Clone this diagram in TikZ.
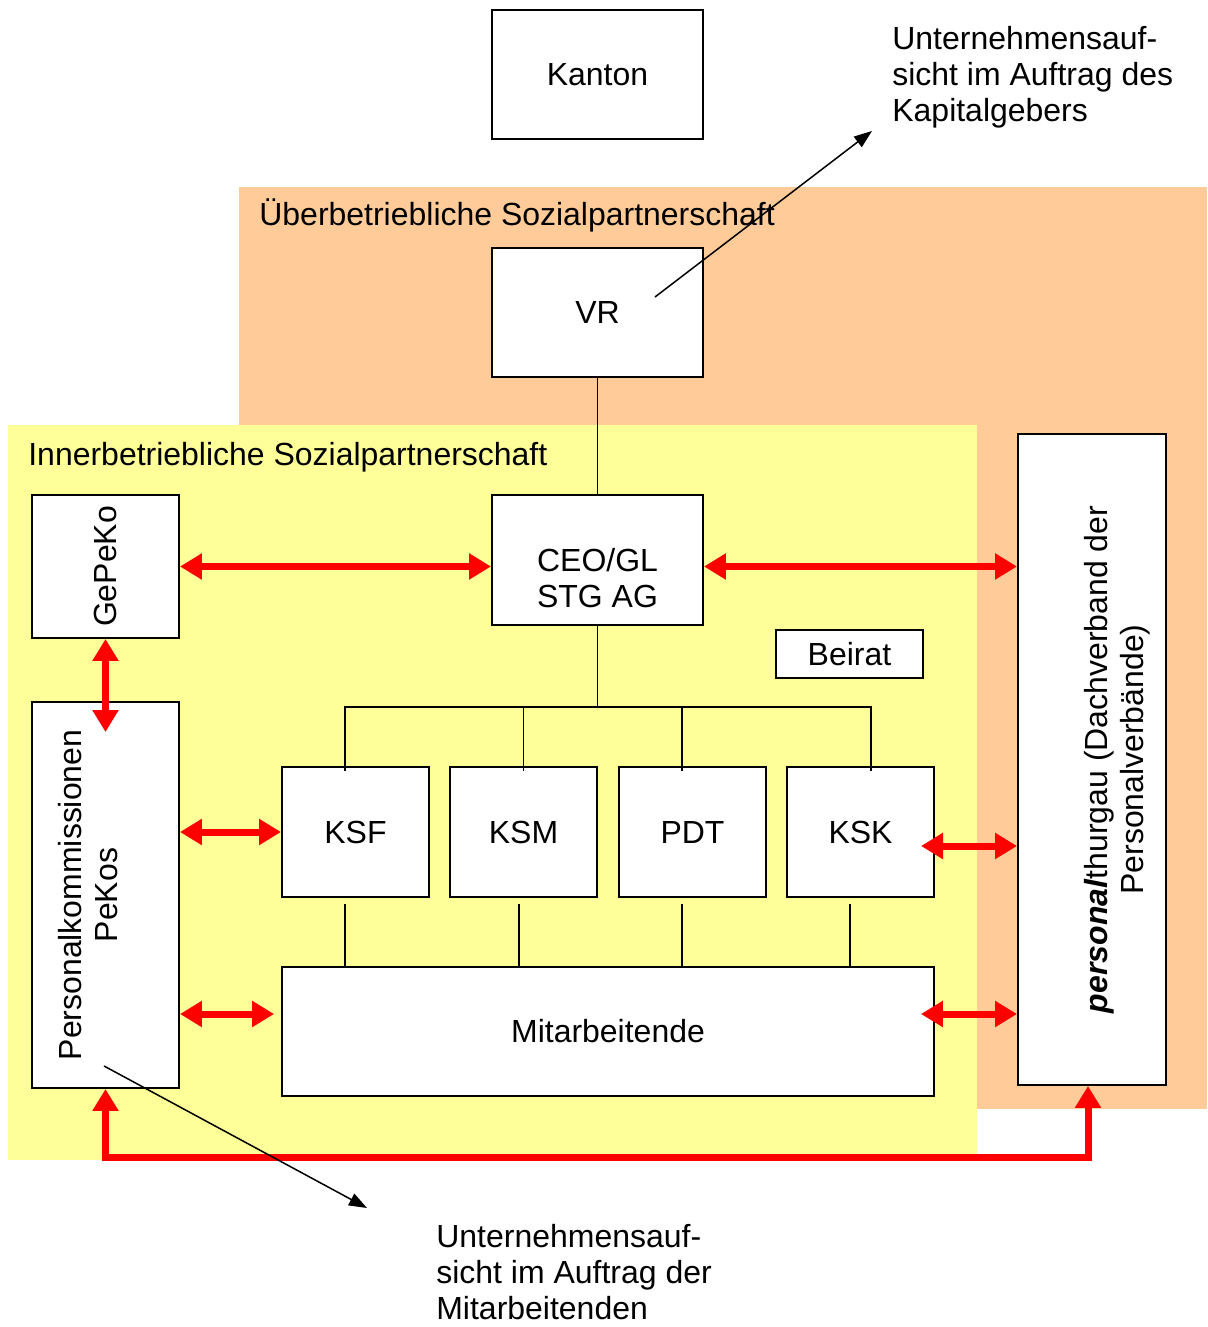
\documentclass[tikz,border=0pt]{standalone}
\usepackage{fontspec}
\setmainfont{Liberation Sans}
\usetikzlibrary{arrows.meta}
\definecolor{ueberfarbe}{HTML}{FFCC99}
\definecolor{innerfarbe}{HTML}{FFFF99}

\begin{document}
\begin{tikzpicture}[x=0.02cm, y=-0.02cm,
  font=\fontsize{18.2}{20.6}\selectfont,
  box/.style={draw, fill=white, line width=0.04cm, inner sep=0pt, align=center},
  rel/.style={draw=red, line width=0.14cm, {Triangle[length=0.44cm,width=0.5cm]}-{Triangle[length=0.44cm,width=0.5cm]}},
  link/.style={line width=0.03cm},
  hint/.style={line width=0.03cm, -{Triangle[length=0.36cm,width=0.26cm]}}]
  \useasboundingbox (0,0) rectangle (1207,1327);
  % Bereiche
  \fill[ueberfarbe] (239,187) rectangle (1207,1109);
  \fill[innerfarbe] (8,425) rectangle (977,1160);
  \node[anchor=base west, inner sep=0pt] (ueb) at (259,226) {Überbetriebliche Sozialpartnerschaft};
  \node[anchor=base west, inner sep=0pt] (inn) at (28,465) {Innerbetriebliche Sozialpartnerschaft};

  % Kaestchen
  \node[box, minimum width=4.22cm, minimum height=2.58cm] (kanton) at (597.5,74.5) {Kanton};
  \node[box, minimum width=4.22cm, minimum height=2.58cm] (vr) at (597.5,312.5) {VR};
  \node[box, minimum width=4.22cm, minimum height=2.6cm,
    label={[align=center, yshift=-0.36cm]center:CEO/GL\\STG AG}] (ceo) at (597.5,560) {};
  \node[box, minimum width=2.94cm, minimum height=2.86cm,
    label={[rotate=90]center:GePeKo}] (gepeko) at (105.5,566.5) {};
  \node[box, minimum width=2.94cm, minimum height=7.72cm] (pekos) at (105.5,895) {};
  \node[rotate=90, align=center] at ([xshift=-0.35cm]pekos.center) {Personalkommissionen\\PeKos};
  \node[box, minimum width=2.94cm, minimum height=0.96cm] (beirat) at (849.5,654) {Beirat};
  \node[box, minimum width=2.94cm, minimum height=2.6cm] (ksf) at (355.5,832) {KSF};
  \node[box, minimum width=2.94cm, minimum height=2.6cm] (ksm) at (523.5,832) {KSM};
  \node[box, minimum width=2.94cm, minimum height=2.6cm] (pdt) at (692.5,832) {PDT};
  \node[box, minimum width=2.94cm, minimum height=2.6cm] (ksk) at (860.5,832) {KSK};
  \node[box, minimum width=13.04cm, minimum height=2.58cm] (mit) at (608,1031.5) {Mitarbeitende};
  \node[box, minimum width=2.96cm, minimum height=13.02cm] (pt) at (1092,759.5) {};
  \node[rotate=90, align=center] at ([xshift=0.5cm]pt.center) {\textbf{\textit{personal}}thurgau (Dachverband der\\Personalverbände)};

  % Linien
  \coordinate (bus) at (ceo.south |- 0,707);
  \draw[link] (vr.south) -- (ceo.north);
  \draw[link] (ceo.south) -- (bus);
  \foreach \n/\dx in {ksf/-0.21,ksm/0,pdt/-0.21,ksk/0.21}
    \draw[link] ([xshift=\dx cm,yshift=-0.1cm]\n.north) |- (bus);
  \foreach \n/\dx in {ksf/-0.21,ksm/-0.09,pdt/-0.21,ksk/-0.21}
    \draw[link] ([xshift=\dx cm,yshift=-0.12cm]\n.south) -- ++(0,64);

  % Sozialpartner
  \draw[rel] (gepeko.east) -- (gepeko.east -| ceo.west);
  \draw[rel] (gepeko.east -| ceo.east) -- (gepeko.east -| pt.west);
  \draw[rel] (gepeko.south) -- ([yshift=-0.62cm]pekos.north);
  \draw[rel] (pekos.east |- ksf.west) -- (ksf.west);
  \draw[rel] ([yshift=0.35cm]pekos.east |- mit.west) -- ([yshift=0.35cm,xshift=-0.14cm]mit.west);
  \draw[rel] ([xshift=-0.28cm,yshift=-0.28cm]ksk.east) -- ([yshift=-0.28cm]ksk.east -| pt.west);
  \draw[rel] ([xshift=-0.28cm,yshift=0.35cm]mit.east) -- ([yshift=0.35cm]mit.east -| pt.west);
  \draw[rel] (pekos.south) -- ++(0,69) -| ([xshift=-0.08cm]pt.south);

  % Aufsicht
  \node[anchor=north west, inner sep=0pt, align=left] (kaptxt) at (892,26) {Unternehmensauf-\\sicht im Auftrag des\\Kapitalgebers};
  \node[anchor=north west, inner sep=0pt, align=left] (mittxt) at (436,1224) {Unternehmensauf-\\sicht im Auftrag der\\Mitarbeitenden};
  \coordinate (kapend) at (872,131);
  \coordinate (mitend) at (367,1208);
  \draw[hint] ([xshift=1.15cm,yshift=0.31cm]vr.center) -- (kapend);
  \draw[hint] ([xshift=-0.03cm,yshift=-3.42cm]pekos.center) -- (mitend);
\end{tikzpicture}
\end{document}
